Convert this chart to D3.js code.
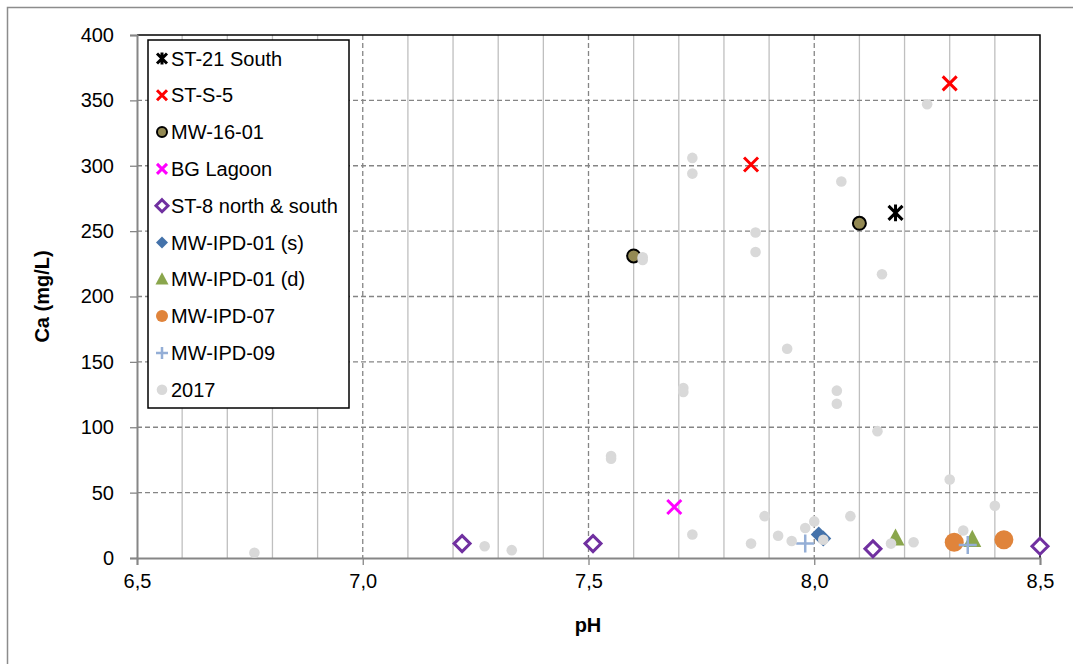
<!DOCTYPE html>
<html>
<head>
<meta charset="utf-8">
<script src="https://cdn.jsdelivr.net/npm/d3@7"></script>
<style>
  body { margin: 0; background: #fff; }
  svg { font-family: "Liberation Sans", Arial, sans-serif; }
</style>
</head>
<body>
<div id="chart"></div>
<script>
// values: [pH, Ca mg/L]
const st21South = [[8.18, 264]];
const stS5 = [[7.86, 301], [8.30, 363]];
const mw1601 = [[7.60, 231], [8.10, 256]];
const bgLagoon = [[7.69, 39]];
const st8 = [[7.22, 11], [7.51, 11], [8.13, 7], [8.50, 9]];
const mwIpd01s = [[8.01, 18], [8.02, 15]];
const mwIpd01d = [[8.18, 15], [8.35, 14]];
const mwIpd07 = [[8.31, 12], [8.42, 14]];
const mwIpd09 = [[7.98, 11], [8.34, 10]];
const data2017 = [
  [6.76, 4], [7.27, 9], [7.33, 6], [7.55, 78], [7.55, 76], [7.62, 230], [7.62, 228],
  [7.71, 130], [7.71, 127], [7.73, 306], [7.73, 294], [7.73, 18], [7.86, 11],
  [7.87, 249], [7.87, 234], [7.89, 32], [7.92, 17], [7.94, 160], [7.95, 13],
  [7.98, 23], [8.00, 28], [8.02, 14], [8.05, 128], [8.05, 118], [8.06, 288],
  [8.08, 32], [8.14, 97], [8.15, 217], [8.17, 11], [8.22, 12], [8.25, 347],
  [8.30, 60], [8.33, 21], [8.40, 40]
];

const xTicks = [6.5, 7.0, 7.5, 8.0, 8.5];
const yTicks = [0, 50, 100, 150, 200, 250, 300, 350, 400];

const W = 1073, H = 664;
const x = d3.scaleLinear().domain([6.5, 8.5]).range([137, 1040]);
const y = d3.scaleLinear().domain([0, 400]).range([558, 35]);

const svg = d3.select("#chart").append("svg")
  .attr("width", W).attr("height", H);

// outer chart border
svg.append("rect")
  .attr("x", 7.5).attr("y", 7.5).attr("width", 1075).attr("height", 665)
  .attr("fill", "none").attr("stroke", "#8c8c8c").attr("stroke-width", 1.5);

// minor vertical grid every 0.1
const minor = d3.range(66, 85).map(d => d / 10).filter(d => Math.round(d * 10) % 5 !== 0);
svg.append("g").selectAll("line").data(minor).join("line")
  .attr("x1", d => x(d)).attr("x2", d => x(d))
  .attr("y1", y(400)).attr("y2", y(0))
  .attr("stroke", "#bfbfbf").attr("stroke-width", 1.3);

// major dashed grid
svg.append("g").selectAll("line").data(xTicks.slice(1, -1)).join("line")
  .attr("x1", d => x(d)).attr("x2", d => x(d))
  .attr("y1", y(400)).attr("y2", y(0))
  .attr("stroke", "#858585").attr("stroke-width", 1.3).attr("stroke-dasharray", "5,3");
svg.append("g").selectAll("line").data(yTicks.slice(1, -1)).join("line")
  .attr("x1", x(6.5)).attr("x2", x(8.5))
  .attr("y1", d => y(d)).attr("y2", d => y(d))
  .attr("stroke", "#858585").attr("stroke-width", 1.3).attr("stroke-dasharray", "5,3");

// plot frame top & right
svg.append("path")
  .attr("d", `M${x(6.5)},${y(400)}H${x(8.5)}V${y(0)}`)
  .attr("fill", "none").attr("stroke", "#000").attr("stroke-width", 1.5);

// axes
const xAxis = svg.append("g").attr("transform", `translate(0,${y(0)})`)
  .call(d3.axisBottom(x).tickValues(xTicks).tickSize(7).tickPadding(9)
    .tickFormat(d => d3.format(".1f")(d).replace(".", ",")));
const yAxis = svg.append("g").attr("transform", `translate(${x(6.5)},0)`)
  .call(d3.axisLeft(y).tickValues(yTicks).tickSize(7).tickPadding(16));
[xAxis, yAxis].forEach(a => {
  a.select(".domain").attr("stroke", "#868686").attr("stroke-width", 2);
  a.selectAll(".tick line").attr("stroke", "#868686").attr("stroke-width", 1.3);
  a.selectAll("text").attr("font-size", 20).attr("fill", "#000")
    .attr("font-family", "Liberation Sans, Arial, sans-serif");
});

// axis titles
svg.append("text").attr("x", 588).attr("y", 632).attr("text-anchor", "middle")
  .attr("font-size", 20).attr("font-weight", "bold").text("pH");
svg.append("text")
  .attr("transform", `translate(49,${(y(0) + y(400)) / 2}) rotate(-90)`)
  .attr("text-anchor", "middle")
  .attr("font-size", 20).attr("font-weight", "bold").text("Ca (mg/L)");

// marker painters
function star(g, s) {
  g.append("path").attr("d", `M${-s},${-s}L${s},${s}M${-s},${s}L${s},${-s}M0,${-s * 1.2}V${s * 1.2}`)
    .attr("stroke", "#000").attr("stroke-width", 3).attr("fill", "none");
}
function cross(color) {
  return (g, s) => g.append("path").attr("d", `M${-s},${-s}L${s},${s}M${-s},${s}L${s},${-s}`)
    .attr("stroke", color).attr("stroke-width", 3).attr("fill", "none");
}
function olive(g, s) {
  g.append("circle").attr("r", s).attr("fill", "#938953").attr("stroke", "#000").attr("stroke-width", 2);
}
function hollowDiamond(g, s) {
  g.append("path").attr("d", `M0,${-s}L${s},0L0,${s}L${-s},0Z`)
    .attr("fill", "#fff").attr("stroke", "#7030a0").attr("stroke-width", 3);
}
function diamond(g, s) {
  g.append("path").attr("d", `M0,${-s}L${s},0L0,${s}L${-s},0Z`).attr("fill", "#4472aa");
}
function triangle(g, s) {
  g.append("path").attr("d", `M0,${-s * 1.1}L${s},${s * 0.8}L${-s},${s * 0.8}Z`).attr("fill", "#8aa64c");
}
function dot(color) {
  return (g, s) => g.append("circle").attr("r", s).attr("fill", color);
}
function plus(g, s) {
  g.append("path").attr("d", `M${-s},0H${s}M0,${-s}V${s}`)
    .attr("stroke", "#94aed6").attr("stroke-width", 2.5).attr("fill", "none");
}

const series = [
  {name: "ST-21 South", data: st21South, draw: star, size: 7, lsize: 5},
  {name: "ST-S-5", data: stS5, draw: cross("#ff0000"), size: 7, lsize: 5},
  {name: "MW-16-01", data: mw1601, draw: olive, size: 6.5, lsize: 5},
  {name: "BG Lagoon", data: bgLagoon, draw: cross("#ff00ff"), size: 7, lsize: 5},
  {name: "ST-8 north & south", data: st8, draw: hollowDiamond, size: 8, lsize: 6},
  {name: "MW-IPD-01 (s)", data: mwIpd01s, draw: diamond, size: 8, lsize: 6},
  {name: "MW-IPD-01 (d)", data: mwIpd01d, draw: triangle, size: 9, lsize: 6.5},
  {name: "MW-IPD-07", data: mwIpd07, draw: dot("#e0843b"), size: 9.5, lsize: 6},
  {name: "MW-IPD-09", data: mwIpd09, draw: plus, size: 9, lsize: 6},
  {name: "2017", data: data2017, draw: dot("#d9d9d9"), size: 5.3, lsize: 5.3}
];

series.forEach(s => {
  const g = svg.append("g");
  s.data.forEach(d => {
    const m = g.append("g").attr("transform", `translate(${x(d[0])},${y(d[1])})`);
    s.draw(m, s.size);
  });
});

// legend
const legend = svg.append("g");
legend.append("rect").attr("x", 148).attr("y", 40).attr("width", 201).attr("height", 368)
  .attr("fill", "#fff").attr("stroke", "#000").attr("stroke-width", 1.5);
series.forEach((s, i) => {
  const cy = 58.5 + i * 36.8;
  const m = legend.append("g").attr("transform", `translate(162,${cy})`);
  s.draw(m, s.lsize);
  legend.append("text").attr("x", 171).attr("y", cy).attr("dy", "0.35em")
    .attr("font-size", 20).text(s.name);
});
</script>
</body>
</html>
